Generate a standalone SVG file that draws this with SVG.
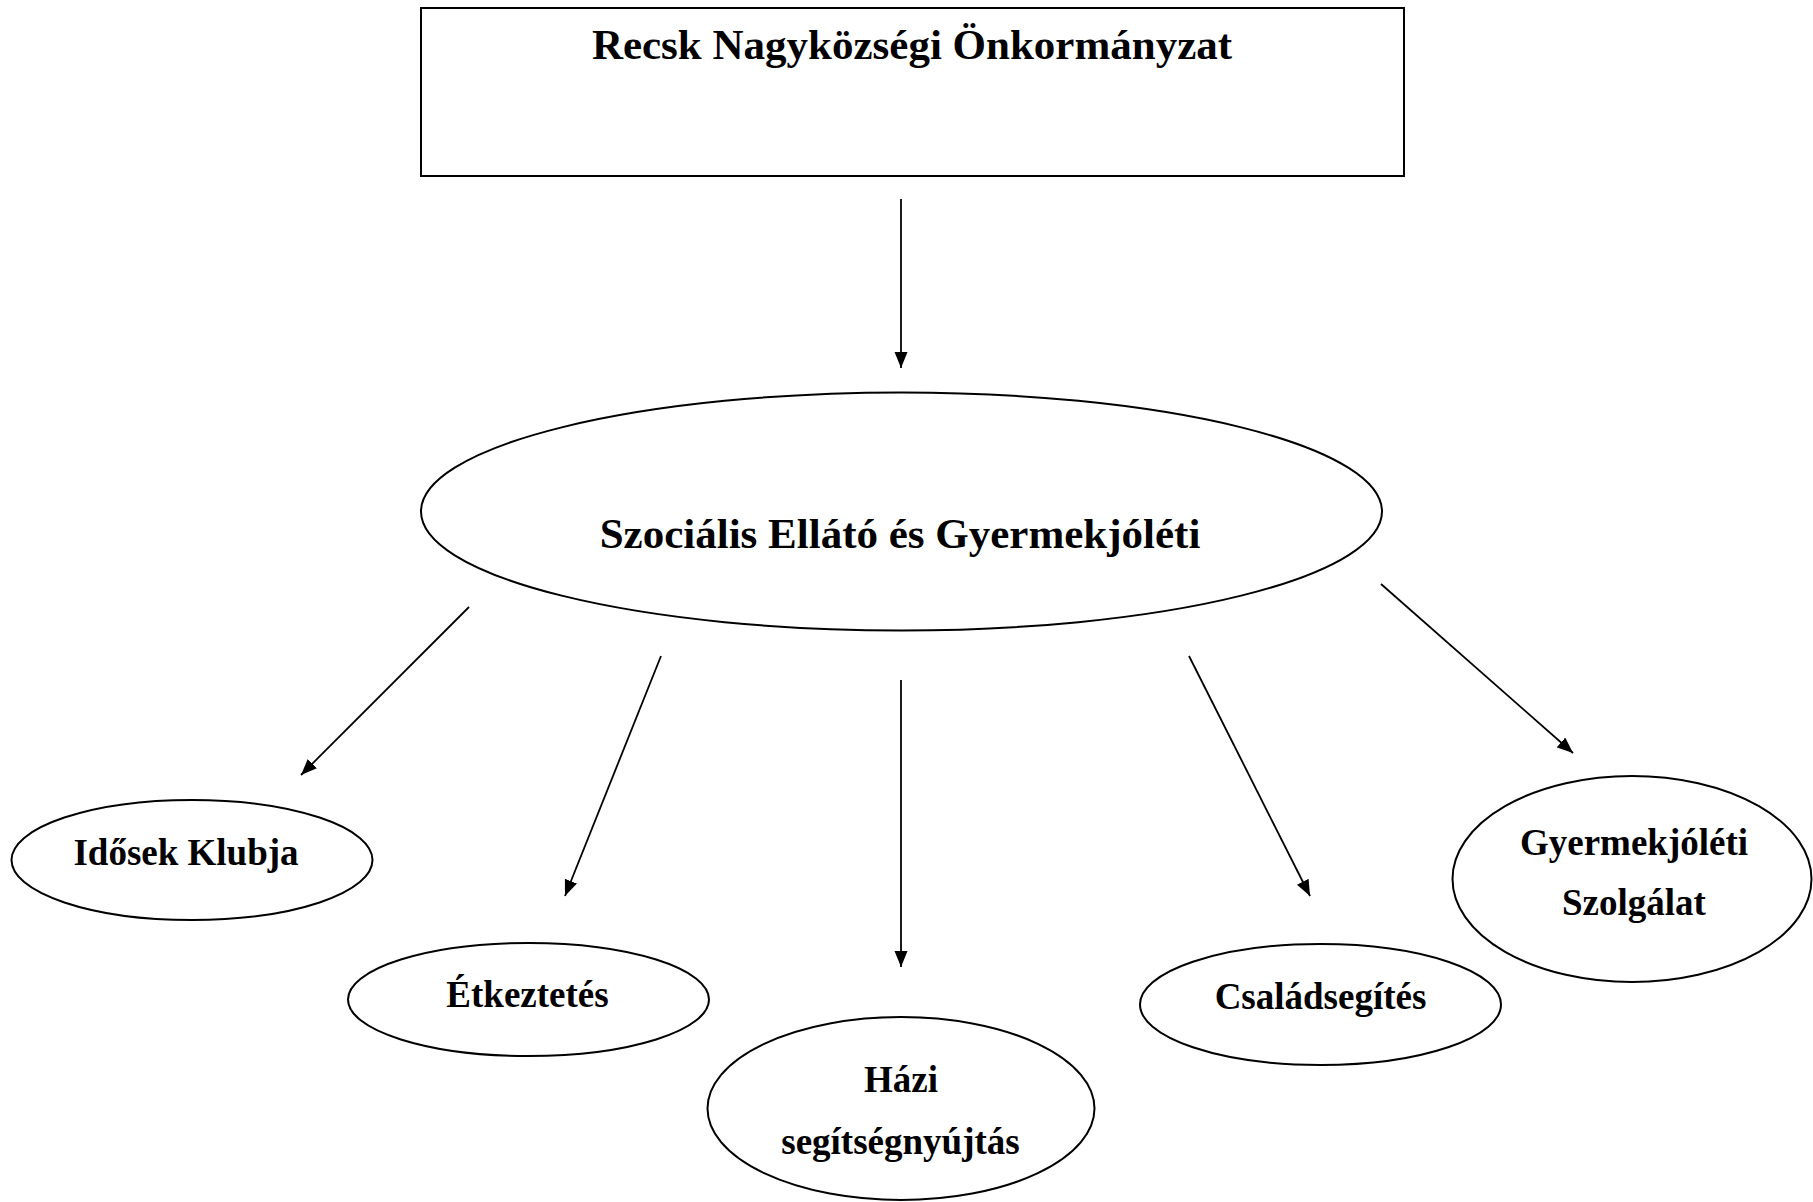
<svg xmlns="http://www.w3.org/2000/svg" width="1813" height="1202" viewBox="0 0 1813 1202">
<defs>
<style>
.node{fill:#fff;stroke:#000;stroke-width:2}
.lbl{font-family:"Liberation Serif","Times New Roman",serif;font-weight:bold;fill:#000;text-anchor:middle}
.big{font-size:43px}
.sm{font-size:37px}
.conn{stroke:#000;stroke-width:1.8;fill:none;marker-end:url(#ah)}
</style>
<marker id="ah" markerUnits="userSpaceOnUse" markerWidth="18" markerHeight="14" refX="16" refY="6.5" orient="auto">
<path d="M0,0 L16,6.5 L0,13 z" fill="#000"/>
</marker>
</defs>
<rect width="1813" height="1202" fill="#fff"/>
<g id="onkormanyzat">
<rect class="node" x="421" y="8" width="983" height="168"/>
<text class="lbl big" x="912" y="59">Recsk Nagyközségi Önkormányzat</text>
</g>
<g id="szocialis">
<ellipse class="node" cx="901.5" cy="511.5" rx="480.5" ry="119"/>
<text class="lbl big" x="900" y="548">Szociális Ellátó és Gyermekjóléti</text>
</g>
<g id="idosek">
<ellipse class="node" cx="192" cy="860" rx="180.5" ry="60"/>
<text class="lbl sm" x="186" y="865">Idősek Klubja</text>
</g>
<g id="etkeztetes">
<ellipse class="node" cx="528.5" cy="999.5" rx="180.5" ry="56.5"/>
<text class="lbl sm" x="527.5" y="1007">Étkeztetés</text>
</g>
<g id="hazi">
<ellipse class="node" cx="901" cy="1108.5" rx="193.5" ry="91.5"/>
<text class="lbl sm" x="901" y="1092">Házi</text>
<text class="lbl sm" x="900.5" y="1154">segítségnyújtás</text>
</g>
<g id="csaladsegites">
<ellipse class="node" cx="1320.5" cy="1004.5" rx="180.5" ry="60.5"/>
<text class="lbl sm" x="1320.5" y="1009">Családsegítés</text>
</g>
<g id="gyermekjoleti">
<ellipse class="node" cx="1632" cy="879" rx="179.5" ry="103"/>
<text class="lbl sm" x="1634" y="855">Gyermekjóléti</text>
<text class="lbl sm" x="1634" y="915">Szolgálat</text>
</g>
<g id="connectors">
<line class="conn" x1="901" y1="199" x2="901" y2="368"/>
<line class="conn" x1="469" y1="607" x2="301" y2="775"/>
<line class="conn" x1="661" y1="656" x2="565" y2="896"/>
<line class="conn" x1="901" y1="680" x2="901" y2="967"/>
<line class="conn" x1="1189" y1="656" x2="1310" y2="896"/>
<line class="conn" x1="1381" y1="584" x2="1573" y2="753"/>
</g>
</svg>
